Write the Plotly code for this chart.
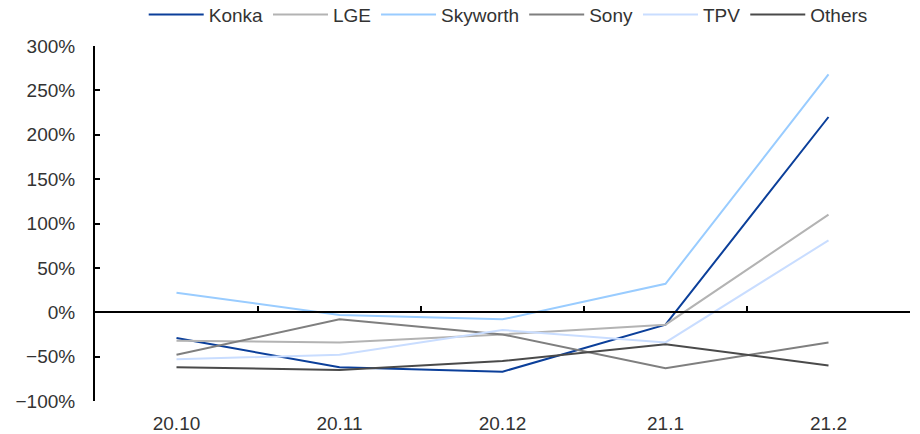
import plotly.graph_objects as go

categories = ["20.10", "20.11", "20.12", "21.1", "21.2"]
konka = [-29, -62, -67, -14, 220]
lge = [-32, -34, -25, -14, 110]
skyworth = [22, -3, -8, 32, 268]
sony = [-48, -8, -25, -63, -34]
tpv = [-53, -48, -20, -34, 81]
others = [-62, -65, -55, -36, -60]

series = [
    ("Konka", konka, "#0B3F9A"),
    ("LGE", lge, "#B3B3B3"),
    ("Skyworth", skyworth, "#99CCFF"),
    ("Sony", sony, "#7F7F7F"),
    ("TPV", tpv, "#C9DDFF"),
    ("Others", others, "#4A4A4A"),
]

FONT = dict(family="Liberation Sans, Arial, sans-serif", size=19, color="#333333")

fig = go.Figure()
# invisible trace to carry the zero-line axis
fig.add_trace(go.Scatter(x=categories, y=[None] * len(categories), xaxis="x2",
                         showlegend=False, hoverinfo="skip", mode="lines"))
for name, vals, color in series:
    fig.add_trace(go.Scatter(x=categories, y=vals, name=name, mode="lines",
                             line=dict(color=color, width=2)))

fig.update_layout(
    width=920, height=434,
    margin=dict(l=95, r=10, t=46, b=33, autoexpand=False),
    paper_bgcolor="white", plot_bgcolor="white",
    font=FONT,
    showlegend=True,
    legend=dict(orientation="h", x=0.507, xanchor="center", y=1.088, yanchor="middle",
                font=FONT, itemwidth=55, traceorder="normal",
                bgcolor="rgba(0,0,0,0)"),
    xaxis=dict(type="category", categoryorder="array", categoryarray=categories,
               range=[-0.5, 4.5], showline=False, showgrid=False, zeroline=False,
               ticks="", ticklabelstandoff=9, tickfont=FONT),
    xaxis2=dict(type="category", categoryorder="array", categoryarray=categories,
                range=[-0.5, 4.5], overlaying="x", anchor="free", position=0.25,
                side="bottom", showline=True, linecolor="black", linewidth=2,
                ticks="inside", tickson="boundaries", ticklen=5, tickwidth=1.5,
                tickcolor="black", showticklabels=False, showgrid=False, zeroline=False),
    yaxis=dict(range=[-100, 300], dtick=50, tick0=0, ticksuffix="%",
               showline=True, linecolor="black", linewidth=2,
               ticks="inside", ticklen=5, tickwidth=1.5, tickcolor="black",
               showgrid=False, zeroline=False, ticklabelstandoff=14, tickfont=FONT),
)

fig.write_html("out.html", config={"displayModeBar": False},
               post_script="document.body.style.margin='0';document.body.style.overflow='hidden';")
